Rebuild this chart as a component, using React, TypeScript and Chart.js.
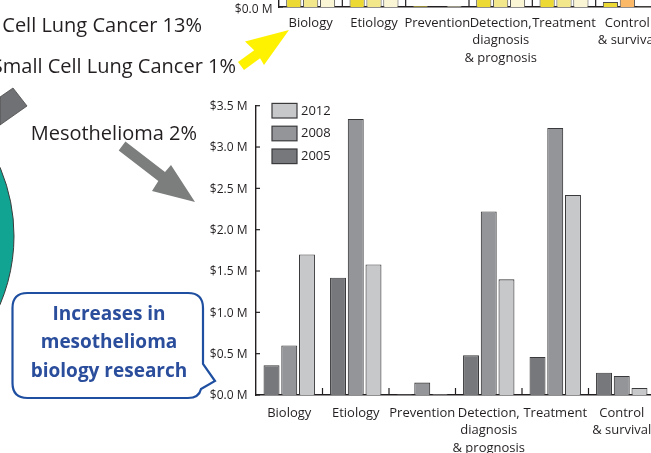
import React, { useEffect, useRef } from "react";
import { Chart, registerables } from "chart.js";

Chart.register(...registerables);

// ---------- DATA ----------
const categories: string[][] = [
  ["Biology"],
  ["Etiology"],
  ["Prevention"],
  ["Detection,", "diagnosis", "& prognosis"],
  ["Treatment"],
  ["Control", "& survival"],
];
const years = ["2005", "2008", "2012"];
// Mesothelioma research funding ($ M)
const meso2005 = [0.36, 1.42, 0.01, 0.48, 0.46, 0.27];
const meso2008 = [0.6, 3.34, 0.15, 2.22, 3.23, 0.23];
const meso2012 = [1.7, 1.58, 0.01, 1.4, 2.42, 0.085];
const mesoTickMax = 3.5;
const mesoTickStep = 0.5;

// Upper (mostly cropped) chart, $ M
const upper2005 = [6.2, 5.4, 0.05, 7.1, 8.3, 0.25];
const upper2008 = [7.4, 6.8, 0, 8.2, 9.1, 4.6];
const upper2012 = [8.1, 7.5, 0.05, 6.6, 8.8, 0.02];
const upperTickMax = 10;
const upperTickStep = 2;

// Pie (mostly cropped)
const pieLabels = ["Other", "Non-Small Cell Lung Cancer", "Small Cell Lung Cancer", "Mesothelioma"];
const pieValues = [84, 13, 1, 2];

// ---------- STYLE ----------
const FONT = "'Open Sans', 'DejaVu Sans', sans-serif";
const INK = "#231f20";
const grayColors = ["#77787b", "#939598", "#c7c8ca"];
const upperColors = ["#ecd934", "#f3e78c", "#faf5d4"];
const upperControl2008 = "#fbb866";
const pieColors = ["#12a493", "#8dc63f", "#f7941d", "#939598"];

const moneyLabel = (v: any) => "$" + Number(v).toFixed(1) + " M";

function makeDecorPlugin(withLegend: boolean) {
  return {
    id: "decor",
    afterDraw(chart: any) {
      const { ctx, chartArea } = chart;
      const xs = chart.scales.x;
      const ys = chart.scales.y;
      ctx.save();
      ctx.strokeStyle = INK;
      ctx.lineWidth = 1.2;
      ys.ticks.forEach((t: any) => {
        const py = ys.getPixelForValue(t.value);
        if (py < -5) return;
        ctx.beginPath();
        ctx.moveTo(chartArea.left, py);
        ctx.lineTo(chartArea.left + 4, py);
        ctx.stroke();
      });
      const n = chart.data.labels.length;
      for (let i = 0; i < n - 1; i++) {
        const px = (xs.getPixelForValue(i) + xs.getPixelForValue(i + 1)) / 2;
        ctx.beginPath();
        ctx.moveTo(px, chartArea.bottom);
        ctx.lineTo(px, chartArea.bottom - 7);
        ctx.stroke();
      }
      if (withLegend) {
        const items = [...chart.data.datasets].reverse();
        const x0 = chartArea.left + 16;
        items.forEach((ds: any, i: number) => {
          const top = chartArea.top - 2.3 + i * 22.8;
          ctx.fillStyle = ds.backgroundColor;
          ctx.fillRect(x0, top, 25, 14.6);
          ctx.strokeStyle = "#3a3a3c";
          ctx.lineWidth = 1.2;
          ctx.strokeRect(x0, top, 25, 14.6);
          ctx.fillStyle = INK;
          ctx.font = `13px ${FONT}`;
          ctx.textBaseline = "middle";
          ctx.textAlign = "left";
          ctx.fillText(ds.label, x0 + 29, top + 7.5);
        });
      }
      ctx.restore();
    },
  };
}

function barOptions(
  max: number,
  step: number,
  labelPad: number,
  yPad: number,
  yLabelOffset: number,
  xHeight: number
) {
  return {
    responsive: false,
    animation: false as const,
    events: [] as any[],
    layout: { padding: { top: 0, right: 0, bottom: 0, left: 0 } },
    plugins: { legend: { display: false }, tooltip: { enabled: false } },
    datasets: { bar: { categoryPercentage: 0.8, barPercentage: 0.9 } },
    scales: {
      x: {
        grid: { display: false, drawTicks: true, tickLength: 8 },
        border: { display: true, color: INK, width: 1.4 },
        ticks: {
          color: INK,
          font: { family: FONT, size: 13, lineHeight: 1.36 },
          padding: labelPad,
          maxRotation: 0,
          autoSkip: false,
        },
        afterFit: (s: any) => {
          s.height = xHeight;
        },
      },
      y: {
        min: 0,
        max,
        grid: { display: false, drawTicks: false },
        border: { display: true, color: INK, width: 1.4 },
        ticks: {
          stepSize: step,
          color: INK,
          font: { family: FONT, size: 12 },
          padding: yPad,
          labelOffset: yLabelOffset,
          callback: moneyLabel,
        },
        afterFit: (s: any) => {
          s.width = 60;
        },
      },
    },
  };
}

function MesoChart() {
  const ref = useRef<HTMLCanvasElement>(null);
  useEffect(() => {
    const chart = new Chart(ref.current!, {
      type: "bar",
      data: {
        labels: categories,
        datasets: [meso2005, meso2008, meso2012].map((d, i) => ({
          label: years[i],
          data: d,
          backgroundColor: grayColors[i],
          borderColor: "#3a3a3c",
          borderWidth: 1.1,
        })),
      },
      options: barOptions(mesoTickMax, mesoTickStep, 1, 8.5, 1, 58) as any,
      plugins: [makeDecorPlugin(true)],
    });
    return () => chart.destroy();
  }, []);
  return (
    <div style={{ position: "absolute", left: 196, top: 89.5, width: 459, height: 363.5 }}>
      <canvas ref={ref} width={459} height={363.5} style={{ display: "block" }} />
    </div>
  );
}

function UpperChart() {
  const ref = useRef<HTMLCanvasElement>(null);
  useEffect(() => {
    const chart = new Chart(ref.current!, {
      type: "bar",
      data: {
        labels: categories,
        datasets: [upper2005, upper2008, upper2012].map((d, i) => ({
          label: years[i],
          data: d,
          backgroundColor: d.map((_, j) => (i === 1 && j === 5 ? upperControl2008 : upperColors[i])),
          borderColor: "#4a4a4a",
          borderWidth: 1,
        })),
      },
      options: barOptions(upperTickMax, upperTickStep, -1, 6.5, 3, 70) as any,
      plugins: [makeDecorPlugin(false)],
    });
    return () => chart.destroy();
  }, []);
  return (
    <div style={{ position: "absolute", left: 218.5, top: -203.3, width: 440, height: 280 }}>
      <canvas ref={ref} width={440} height={280} style={{ display: "block" }} />
    </div>
  );
}

function PieChart() {
  const ref = useRef<HTMLCanvasElement>(null);
  useEffect(() => {
    const chart = new Chart(ref.current!, {
      type: "pie",
      data: {
        labels: pieLabels,
        datasets: [
          {
            data: pieValues,
            backgroundColor: pieColors,
            borderColor: "#3a3a3a",
            borderWidth: 1,
            hoverOffset: 0,
          },
        ],
      },
      options: {
        responsive: false,
        animation: false,
        events: [],
        radius: 175,
        layout: { padding: 0 },
        plugins: { legend: { display: false }, tooltip: { enabled: false } },
      } as any,
    });
    return () => chart.destroy();
  }, []);
  return (
    <div style={{ position: "absolute", left: -340.6, top: 56, width: 360, height: 360 }}>
      <canvas ref={ref} width={360} height={360} style={{ display: "block" }} />
    </div>
  );
}

function Overlay() {
  const t = { fontFamily: FONT, fill: INK, fontSize: 20 } as any;
  const b = { fontFamily: FONT, fill: "#2a4d9c", fontSize: 19, fontWeight: 700, textAnchor: "middle" } as any;
  return (
    <svg
      width={651}
      height={453}
      style={{ position: "absolute", left: 0, top: 0, pointerEvents: "none" }}
    >
      <text x={202} y={31.5} textAnchor="end" style={t}>Cell Lung Cancer 13%</text>
      <text x={236} y={72.5} textAnchor="end" style={t}>Small Cell Lung Cancer 1%</text>
      <text x={197} y={140} textAnchor="end" style={t}>Mesothelioma 2%</text>
      <polygon points="0,97 13,88 27,106 0,125" fill="#707174" stroke="#4a4a4a" strokeWidth={0.8} />
      <polygon
        points="125.4,141.6 165,172.1 171,165 195,202 152,191 158.3,180.9 118.7,150.4"
        fill="#7c7e7d"
      />
      <polygon points="238,62 254.2,50.2 245,41.5 289,30 264,65 260.1,58.2 244,70" fill="#fff200" />
      <path
        d="M 27.5,293 H 188 Q 203,293 203,308 V 364 L 215,381 L 201,389 Q 199,398 188,398 H 27.5 Q 12.5,398 12.5,383 V 308 Q 12.5,293 27.5,293 Z"
        fill="#ffffff"
        stroke="#1f4fa0"
        strokeWidth={2.2}
      />
      <text x={109} y={320} style={b}>Increases in</text>
      <text x={109} y={348} style={b}>mesothelioma</text>
      <text x={109} y={376.5} style={b}>biology research</text>
    </svg>
  );
}

export default function App() {
  return (
    <div
      style={{
        position: "fixed",
        left: 0,
        top: 0,
        width: 651,
        height: 453,
        overflow: "hidden",
        background: "#ffffff",
      }}
    >
      <PieChart />
      <UpperChart />
      <MesoChart />
      <Overlay />
    </div>
  );
}
